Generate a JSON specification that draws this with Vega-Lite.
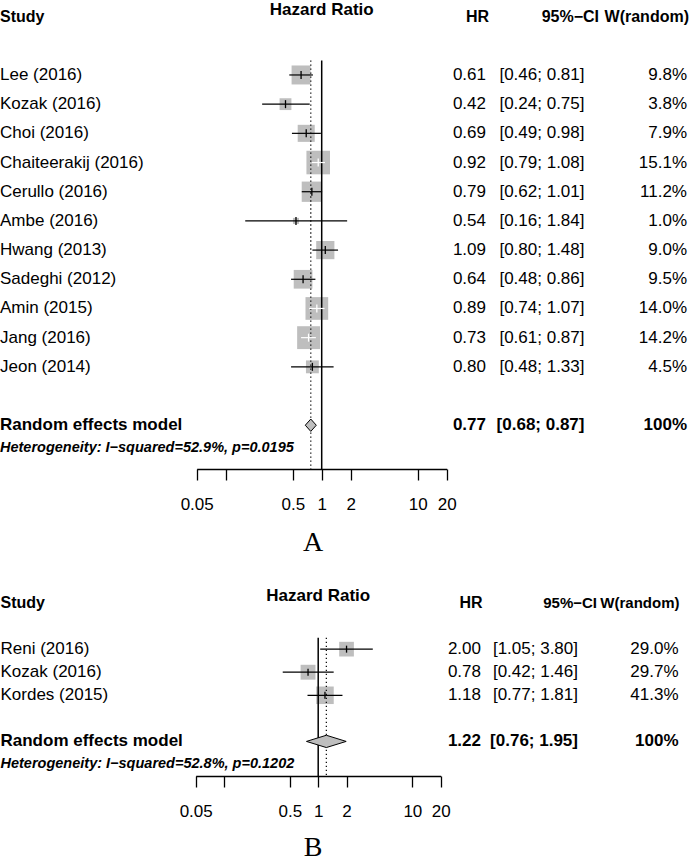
{
  "$schema": "https://vega.github.io/schema/vega-lite/v6.json",
  "padding": 0,
  "bounds": "flush",
  "spacing": 122.5,
  "resolve": {"scale": {"size": "independent", "color": "independent"}},
  "config": {
    "view": {"stroke": null},
    "font": "Liberation Sans",
    "text": {"font": "Liberation Sans", "fontSize": 17, "color": "black"}
  },
  "datasets": {
    "a": [
      {"kind": "study", "study": "Lee (2016)", "hr": 0.61, "lo": 0.46, "hi": 0.81, "w": 9.8, "hr_txt": "0.61", "ci_txt": "[0.46; 0.81]", "w_txt": "9.8%"},
      {"kind": "study", "study": "Kozak (2016)", "hr": 0.42, "lo": 0.24, "hi": 0.75, "w": 3.8, "hr_txt": "0.42", "ci_txt": "[0.24; 0.75]", "w_txt": "3.8%"},
      {"kind": "study", "study": "Choi (2016)", "hr": 0.69, "lo": 0.49, "hi": 0.98, "w": 7.9, "hr_txt": "0.69", "ci_txt": "[0.49; 0.98]", "w_txt": "7.9%"},
      {"kind": "study", "study": "Chaiteerakij (2016)", "hr": 0.92, "lo": 0.79, "hi": 1.08, "w": 15.1, "hr_txt": "0.92", "ci_txt": "[0.79; 1.08]", "w_txt": "15.1%"},
      {"kind": "study", "study": "Cerullo (2016)", "hr": 0.79, "lo": 0.62, "hi": 1.01, "w": 11.2, "hr_txt": "0.79", "ci_txt": "[0.62; 1.01]", "w_txt": "11.2%"},
      {"kind": "study", "study": "Ambe (2016)", "hr": 0.54, "lo": 0.16, "hi": 1.84, "w": 1.0, "hr_txt": "0.54", "ci_txt": "[0.16; 1.84]", "w_txt": "1.0%"},
      {"kind": "study", "study": "Hwang (2013)", "hr": 1.09, "lo": 0.80, "hi": 1.48, "w": 9.0, "hr_txt": "1.09", "ci_txt": "[0.80; 1.48]", "w_txt": "9.0%"},
      {"kind": "study", "study": "Sadeghi (2012)", "hr": 0.64, "lo": 0.48, "hi": 0.86, "w": 9.5, "hr_txt": "0.64", "ci_txt": "[0.48; 0.86]", "w_txt": "9.5%"},
      {"kind": "study", "study": "Amin (2015)", "hr": 0.89, "lo": 0.74, "hi": 1.07, "w": 14.0, "hr_txt": "0.89", "ci_txt": "[0.74; 1.07]", "w_txt": "14.0%"},
      {"kind": "study", "study": "Jang (2016)", "hr": 0.73, "lo": 0.61, "hi": 0.87, "w": 14.2, "hr_txt": "0.73", "ci_txt": "[0.61; 0.87]", "w_txt": "14.2%"},
      {"kind": "study", "study": "Jeon (2014)", "hr": 0.80, "lo": 0.48, "hi": 1.33, "w": 4.5, "hr_txt": "0.80", "ci_txt": "[0.48; 1.33]", "w_txt": "4.5%"},
      {"kind": "re", "study": "Random effects model", "hr": 0.77, "lo": 0.68, "hi": 0.87, "w": 100, "hr_txt": "0.77", "ci_txt": "[0.68; 0.87]", "w_txt": "100%", "het": "Heterogeneity: I−squared=52.9%, p=0.0195"}
    ],
    "b": [
      {"kind": "study", "study": "Reni (2016)", "hr": 2.00, "lo": 1.05, "hi": 3.80, "w": 29.0, "hr_txt": "2.00", "ci_txt": "[1.05; 3.80]", "w_txt": "29.0%"},
      {"kind": "study", "study": "Kozak (2016)", "hr": 0.78, "lo": 0.42, "hi": 1.46, "w": 29.7, "hr_txt": "0.78", "ci_txt": "[0.42; 1.46]", "w_txt": "29.7%"},
      {"kind": "study", "study": "Kordes  (2015)", "hr": 1.18, "lo": 0.77, "hi": 1.81, "w": 41.3, "hr_txt": "1.18", "ci_txt": "[0.77; 1.81]", "w_txt": "41.3%"},
      {"kind": "re", "study": "Random effects model", "hr": 1.22, "lo": 0.76, "hi": 1.95, "w": 100, "hr_txt": "1.22", "ci_txt": "[0.76; 1.95]", "w_txt": "100%", "het": "Heterogeneity: I−squared=52.8%, p=0.1202"}
    ],
    "hdr": [
      {"col": "Study", "label": "Study"},
      {"col": "HR", "label": "HR"},
      {"col": "CI", "label": "95%−CI"},
      {"col": "W", "label": "W(random)"},
      {"col": "Plot", "label": "Hazard Ratio"}
    ]
  },
  "vconcat": [
    {
      "width": 689,
      "height": 467,
      "data": {"name": "a"},
      "title": {"text": "A", "orient": "bottom", "anchor": "middle", "dx": -31.5, "offset": 17, "font": "Liberation Serif", "fontSize": 28, "fontWeight": "normal", "color": "black"},
      "layer": [
        {
          "encoding": {
            "y": {"field": "study", "type": "nominal", "axis": null,
              "scale": {"type": "band", "domain": ["hdr", "g0", "Lee (2016)", "Kozak (2016)", "Choi (2016)", "Chaiteerakij (2016)", "Cerullo (2016)", "Ambe (2016)", "Hwang (2013)", "Sadeghi (2012)", "Amin (2015)", "Jang (2016)", "Jeon (2014)", "g1", "Random effects model"], "paddingInner": 0, "paddingOuter": 0.5, "align": 0, "round": false}}
          },
          "layer": [
            {
              "transform": [{"filter": "datum.kind == 'study'"}],
              "mark": {"type": "square", "filled": true, "color": "#BEBEBE", "opacity": 1},
              "encoding": {
                "x": {"field": "hr", "type": "quantitative",
                  "scale": {"type": "log", "domain": [0.05, 20], "range": [196.7, 446.7], "nice": false},
                  "axis": {"values": [0.05, 0.1, 0.5, 1, 2, 10, 20], "format": "~g", "labelExpr": "datum.value == 0.1 ? '' : datum.label", "title": null, "grid": false, "tickSize": 11, "tickWidth": 1.3, "tickColor": "black", "domainColor": "black", "domainWidth": 1.3, "labelColor": "black", "labelFont": "Liberation Sans", "labelFontSize": 17, "labelPadding": 16, "labelFlush": false, "labelOverlap": false}},
                "size": {"field": "w", "type": "quantitative", "scale": {"domain": [0, 100], "range": [0, 3680]}, "legend": null}
              }
            },
            {
              "data": {"values": [{}]},
              "mark": {"type": "rule", "strokeWidth": 1.5, "color": "black"},
              "encoding": {
                "x": {"datum": 1, "type": "quantitative"},
                "y": {"datum": "Lee (2016)", "type": "nominal", "bandPosition": 0},
                "y2": {"value": "height"}
              }
            },
            {
              "transform": [{"filter": "datum.kind == 're'"}],
              "mark": {"type": "rule", "strokeWidth": 1.2, "color": "black", "strokeDash": [1.4, 2.6]},
              "encoding": {
                "x": {"field": "hr", "type": "quantitative"},
                "y": {"datum": "Lee (2016)", "type": "nominal", "bandPosition": 0},
                "y2": {"value": "height"}
              }
            },
            {
              "transform": [{"filter": "datum.kind == 'study'"}],
              "mark": {"type": "rule", "strokeWidth": 1.2},
              "encoding": {
                "x": {"field": "lo", "type": "quantitative"},
                "x2": {"field": "hi"},
                "color": {"condition": {"test": "datum.w >= 14", "value": "white"}, "value": "black"}
              }
            },
            {
              "transform": [{"filter": "datum.kind == 'study'"}],
              "mark": {"type": "tick", "size": 8, "thickness": 1.3, "opacity": 1},
              "encoding": {
                "x": {"field": "hr", "type": "quantitative"},
                "color": {"condition": {"test": "datum.w >= 14", "value": "white"}, "value": "black"}
              }
            },
            {
              "transform": [{"filter": "datum.kind == 're'"}],
              "mark": {"type": "point", "shape": "M-1,0L0,-1.12L1,0L0,1.12Z", "size": 121, "filled": true, "fill": "#BEBEBE", "stroke": "black", "strokeWidth": 1, "opacity": 1},
              "encoding": {
                "x": {"field": "hr", "type": "quantitative"}
              }
            },
            {
              "data": {"name": "hdr"},
              "transform": [{"filter": "datum.col == 'Plot'"}],
              "mark": {"type": "text", "fontWeight": "bold", "dy": -7},
              "encoding": {
                "x": {"datum": 1, "type": "quantitative"},
                "y": {"datum": "hdr", "type": "nominal", "bandPosition": 0.5},
                "text": {"field": "label"}
              }
            }
          ]
        },
        {
          "encoding": {
            "y": {"field": "study", "type": "nominal", "axis": null}
          },
          "layer": [
            {
              "transform": [{"filter": "datum.kind == 'study'"}],
              "mark": {"type": "text", "align": "left"},
              "encoding": {
                "x": {"datum": 0, "type": "quantitative", "axis": null,
                  "scale": {"type": "linear", "domain": [0, 1, 2, 3, 4, 5, 6], "range": [0, 486, 489, 584.5, 599, 687, 689], "nice": false, "zero": false}},
                "text": {"field": "study"}
              }
            },
            {
              "transform": [{"filter": "datum.kind == 'study'"}],
              "mark": {"type": "text", "align": "right"},
              "encoding": {"x": {"datum": 1, "type": "quantitative", "axis": null}, "text": {"field": "hr_txt"}}
            },
            {
              "transform": [{"filter": "datum.kind == 'study'"}],
              "mark": {"type": "text", "align": "right"},
              "encoding": {"x": {"datum": 3, "type": "quantitative", "axis": null}, "text": {"field": "ci_txt"}}
            },
            {
              "transform": [{"filter": "datum.kind == 'study'"}],
              "mark": {"type": "text", "align": "right"},
              "encoding": {"x": {"datum": 5, "type": "quantitative", "axis": null}, "text": {"field": "w_txt"}}
            },
            {
              "transform": [{"filter": "datum.kind == 're'"}],
              "mark": {"type": "text", "align": "left", "fontWeight": "bold"},
              "encoding": {"x": {"datum": 0, "type": "quantitative", "axis": null}, "text": {"field": "study"}}
            },
            {
              "transform": [{"filter": "datum.kind == 're'"}],
              "mark": {"type": "text", "align": "right", "fontWeight": "bold"},
              "encoding": {"x": {"datum": 1, "type": "quantitative", "axis": null}, "text": {"field": "hr_txt"}}
            },
            {
              "transform": [{"filter": "datum.kind == 're'"}],
              "mark": {"type": "text", "align": "right", "fontWeight": "bold"},
              "encoding": {"x": {"datum": 3, "type": "quantitative", "axis": null}, "text": {"field": "ci_txt"}}
            },
            {
              "transform": [{"filter": "datum.kind == 're'"}],
              "mark": {"type": "text", "align": "right", "fontWeight": "bold"},
              "encoding": {"x": {"datum": 5, "type": "quantitative", "axis": null}, "text": {"field": "w_txt"}}
            },
            {
              "transform": [{"filter": "datum.kind == 're'"}],
              "mark": {"type": "text", "align": "left", "fontWeight": "bold", "fontStyle": "italic", "fontSize": 14.5, "dy": 23},
              "encoding": {"x": {"datum": 0, "type": "quantitative", "axis": null}, "text": {"field": "het"}}
            },
            {
              "data": {"name": "hdr"},
              "transform": [{"filter": "datum.col == 'Study'"}],
              "mark": {"type": "text", "align": "left", "fontWeight": "bold", "fontSize": 16},
              "encoding": {"x": {"datum": 0, "type": "quantitative", "axis": null}, "y": {"datum": "hdr", "type": "nominal", "bandPosition": 0.5}, "text": {"field": "label"}}
            },
            {
              "data": {"name": "hdr"},
              "transform": [{"filter": "datum.col == 'HR'"}],
              "mark": {"type": "text", "align": "right", "fontWeight": "bold", "fontSize": 16},
              "encoding": {"x": {"datum": 2, "type": "quantitative", "axis": null}, "y": {"datum": "hdr", "type": "nominal", "bandPosition": 0.5}, "text": {"field": "label"}}
            },
            {
              "data": {"name": "hdr"},
              "transform": [{"filter": "datum.col == 'CI'"}],
              "mark": {"type": "text", "align": "right", "fontWeight": "bold", "fontSize": 16},
              "encoding": {"x": {"datum": 4, "type": "quantitative", "axis": null}, "y": {"datum": "hdr", "type": "nominal", "bandPosition": 0.5}, "text": {"field": "label"}}
            },
            {
              "data": {"name": "hdr"},
              "transform": [{"filter": "datum.col == 'W'"}],
              "mark": {"type": "text", "align": "right", "fontWeight": "bold", "fontSize": 16},
              "encoding": {"x": {"datum": 6, "type": "quantitative", "axis": null}, "y": {"datum": "hdr", "type": "nominal", "bandPosition": 0.5}, "text": {"field": "label"}}
            }
          ]
        }
      ],
      "resolve": {"scale": {"x": "independent"}, "axis": {"x": "independent"}}
    },
    {
      "width": 689,
      "height": 184.5,
      "data": {"name": "b"},
      "title": {"text": "B", "orient": "bottom", "anchor": "middle", "dx": -31.5, "offset": 15, "font": "Liberation Serif", "fontSize": 28, "fontWeight": "normal", "color": "black"},
      "layer": [
        {
          "encoding": {
            "y": {"field": "study", "type": "nominal", "axis": null,
              "scale": {"type": "band", "domain": ["hdr", "g0", "Reni (2016)", "Kozak (2016)", "Kordes  (2015)", "g1", "Random effects model"], "paddingInner": 0, "paddingOuter": 0.5, "align": 0, "round": false}}
          },
          "layer": [
            {
              "transform": [{"filter": "datum.kind == 'study'"}],
              "mark": {"type": "square", "filled": true, "color": "#BEBEBE", "opacity": 1},
              "encoding": {
                "x": {"field": "hr", "type": "quantitative",
                  "scale": {"type": "log", "domain": [0.05, 20], "range": [195.7, 440.7], "nice": false},
                  "axis": {"values": [0.05, 0.1, 0.5, 1, 2, 10, 20], "format": "~g", "labelExpr": "datum.value == 0.1 ? '' : datum.label", "title": null, "grid": false, "tickSize": 11, "tickWidth": 1.3, "tickColor": "black", "domainColor": "black", "domainWidth": 1.3, "labelColor": "black", "labelFont": "Liberation Sans", "labelFontSize": 17, "labelPadding": 16, "labelFlush": false, "labelOverlap": false}},
                "size": {"field": "w", "type": "quantitative", "scale": {"domain": [0, 100], "range": [0, 745]}, "legend": null}
              }
            },
            {
              "data": {"values": [{}]},
              "mark": {"type": "rule", "strokeWidth": 1.5, "color": "black"},
              "encoding": {
                "x": {"datum": 1, "type": "quantitative"},
                "y": {"datum": "Reni (2016)", "type": "nominal", "bandPosition": 0},
                "y2": {"value": "height"}
              }
            },
            {
              "transform": [{"filter": "datum.kind == 're'"}],
              "mark": {"type": "rule", "strokeWidth": 1.2, "color": "black", "strokeDash": [1.4, 2.6]},
              "encoding": {
                "x": {"field": "hr", "type": "quantitative"},
                "y": {"datum": "Reni (2016)", "type": "nominal", "bandPosition": 0},
                "y2": {"value": "height"}
              }
            },
            {
              "transform": [{"filter": "datum.kind == 'study'"}],
              "mark": {"type": "rule", "strokeWidth": 1.2, "color": "black"},
              "encoding": {
                "x": {"field": "lo", "type": "quantitative"},
                "x2": {"field": "hi"}
              }
            },
            {
              "transform": [{"filter": "datum.kind == 'study'"}],
              "mark": {"type": "tick", "size": 7, "thickness": 1.3, "color": "black", "opacity": 1},
              "encoding": {
                "x": {"field": "hr", "type": "quantitative"}
              }
            },
            {
              "transform": [{"filter": "datum.kind == 're'"}],
              "mark": {"type": "point", "shape": "M-1,0L0,-0.31L1,0L0,0.31Z", "size": 1576, "filled": true, "fill": "#BEBEBE", "stroke": "black", "strokeWidth": 1, "opacity": 1},
              "encoding": {
                "x": {"field": "hr", "type": "quantitative"}
              }
            },
            {
              "data": {"name": "hdr"},
              "transform": [{"filter": "datum.col == 'Plot'"}],
              "mark": {"type": "text", "fontWeight": "bold", "dy": -7},
              "encoding": {
                "x": {"datum": 1, "type": "quantitative"},
                "y": {"datum": "hdr", "type": "nominal", "bandPosition": 0.5},
                "text": {"field": "label"}
              }
            }
          ]
        },
        {
          "encoding": {
            "y": {"field": "study", "type": "nominal", "axis": null}
          },
          "layer": [
            {
              "transform": [{"filter": "datum.kind == 'study'"}],
              "mark": {"type": "text", "align": "left"},
              "encoding": {
                "x": {"datum": 0, "type": "quantitative", "axis": null,
                  "scale": {"type": "linear", "domain": [0, 1, 2, 3, 4, 5, 6], "range": [0.5, 481, 482.5, 578, 597, 678.5, 679.5], "nice": false, "zero": false}},
                "text": {"field": "study"}
              }
            },
            {
              "transform": [{"filter": "datum.kind == 'study'"}],
              "mark": {"type": "text", "align": "right"},
              "encoding": {"x": {"datum": 1, "type": "quantitative", "axis": null}, "text": {"field": "hr_txt"}}
            },
            {
              "transform": [{"filter": "datum.kind == 'study'"}],
              "mark": {"type": "text", "align": "right"},
              "encoding": {"x": {"datum": 3, "type": "quantitative", "axis": null}, "text": {"field": "ci_txt"}}
            },
            {
              "transform": [{"filter": "datum.kind == 'study'"}],
              "mark": {"type": "text", "align": "right"},
              "encoding": {"x": {"datum": 5, "type": "quantitative", "axis": null}, "text": {"field": "w_txt"}}
            },
            {
              "transform": [{"filter": "datum.kind == 're'"}],
              "mark": {"type": "text", "align": "left", "fontWeight": "bold"},
              "encoding": {"x": {"datum": 0, "type": "quantitative", "axis": null}, "text": {"field": "study"}}
            },
            {
              "transform": [{"filter": "datum.kind == 're'"}],
              "mark": {"type": "text", "align": "right", "fontWeight": "bold"},
              "encoding": {"x": {"datum": 1, "type": "quantitative", "axis": null}, "text": {"field": "hr_txt"}}
            },
            {
              "transform": [{"filter": "datum.kind == 're'"}],
              "mark": {"type": "text", "align": "right", "fontWeight": "bold"},
              "encoding": {"x": {"datum": 3, "type": "quantitative", "axis": null}, "text": {"field": "ci_txt"}}
            },
            {
              "transform": [{"filter": "datum.kind == 're'"}],
              "mark": {"type": "text", "align": "right", "fontWeight": "bold"},
              "encoding": {"x": {"datum": 5, "type": "quantitative", "axis": null}, "text": {"field": "w_txt"}}
            },
            {
              "transform": [{"filter": "datum.kind == 're'"}],
              "mark": {"type": "text", "align": "left", "fontWeight": "bold", "fontStyle": "italic", "fontSize": 14.5, "dy": 23},
              "encoding": {"x": {"datum": 0, "type": "quantitative", "axis": null}, "text": {"field": "het"}}
            },
            {
              "data": {"name": "hdr"},
              "transform": [{"filter": "datum.col == 'Study'"}],
              "mark": {"type": "text", "align": "left", "fontWeight": "bold", "fontSize": 16},
              "encoding": {"x": {"datum": 0, "type": "quantitative", "axis": null}, "y": {"datum": "hdr", "type": "nominal", "bandPosition": 0.5}, "text": {"field": "label"}}
            },
            {
              "data": {"name": "hdr"},
              "transform": [{"filter": "datum.col == 'HR'"}],
              "mark": {"type": "text", "align": "right", "fontWeight": "bold", "fontSize": 16},
              "encoding": {"x": {"datum": 2, "type": "quantitative", "axis": null}, "y": {"datum": "hdr", "type": "nominal", "bandPosition": 0.5}, "text": {"field": "label"}}
            },
            {
              "data": {"name": "hdr"},
              "transform": [{"filter": "datum.col == 'CI'"}],
              "mark": {"type": "text", "align": "right", "fontWeight": "bold", "fontSize": 15},
              "encoding": {"x": {"datum": 4, "type": "quantitative", "axis": null}, "y": {"datum": "hdr", "type": "nominal", "bandPosition": 0.5}, "text": {"field": "label"}}
            },
            {
              "data": {"name": "hdr"},
              "transform": [{"filter": "datum.col == 'W'"}],
              "mark": {"type": "text", "align": "right", "fontWeight": "bold", "fontSize": 15},
              "encoding": {"x": {"datum": 6, "type": "quantitative", "axis": null}, "y": {"datum": "hdr", "type": "nominal", "bandPosition": 0.5}, "text": {"field": "label"}}
            }
          ]
        }
      ],
      "resolve": {"scale": {"x": "independent"}, "axis": {"x": "independent"}}
    }
  ]
}
